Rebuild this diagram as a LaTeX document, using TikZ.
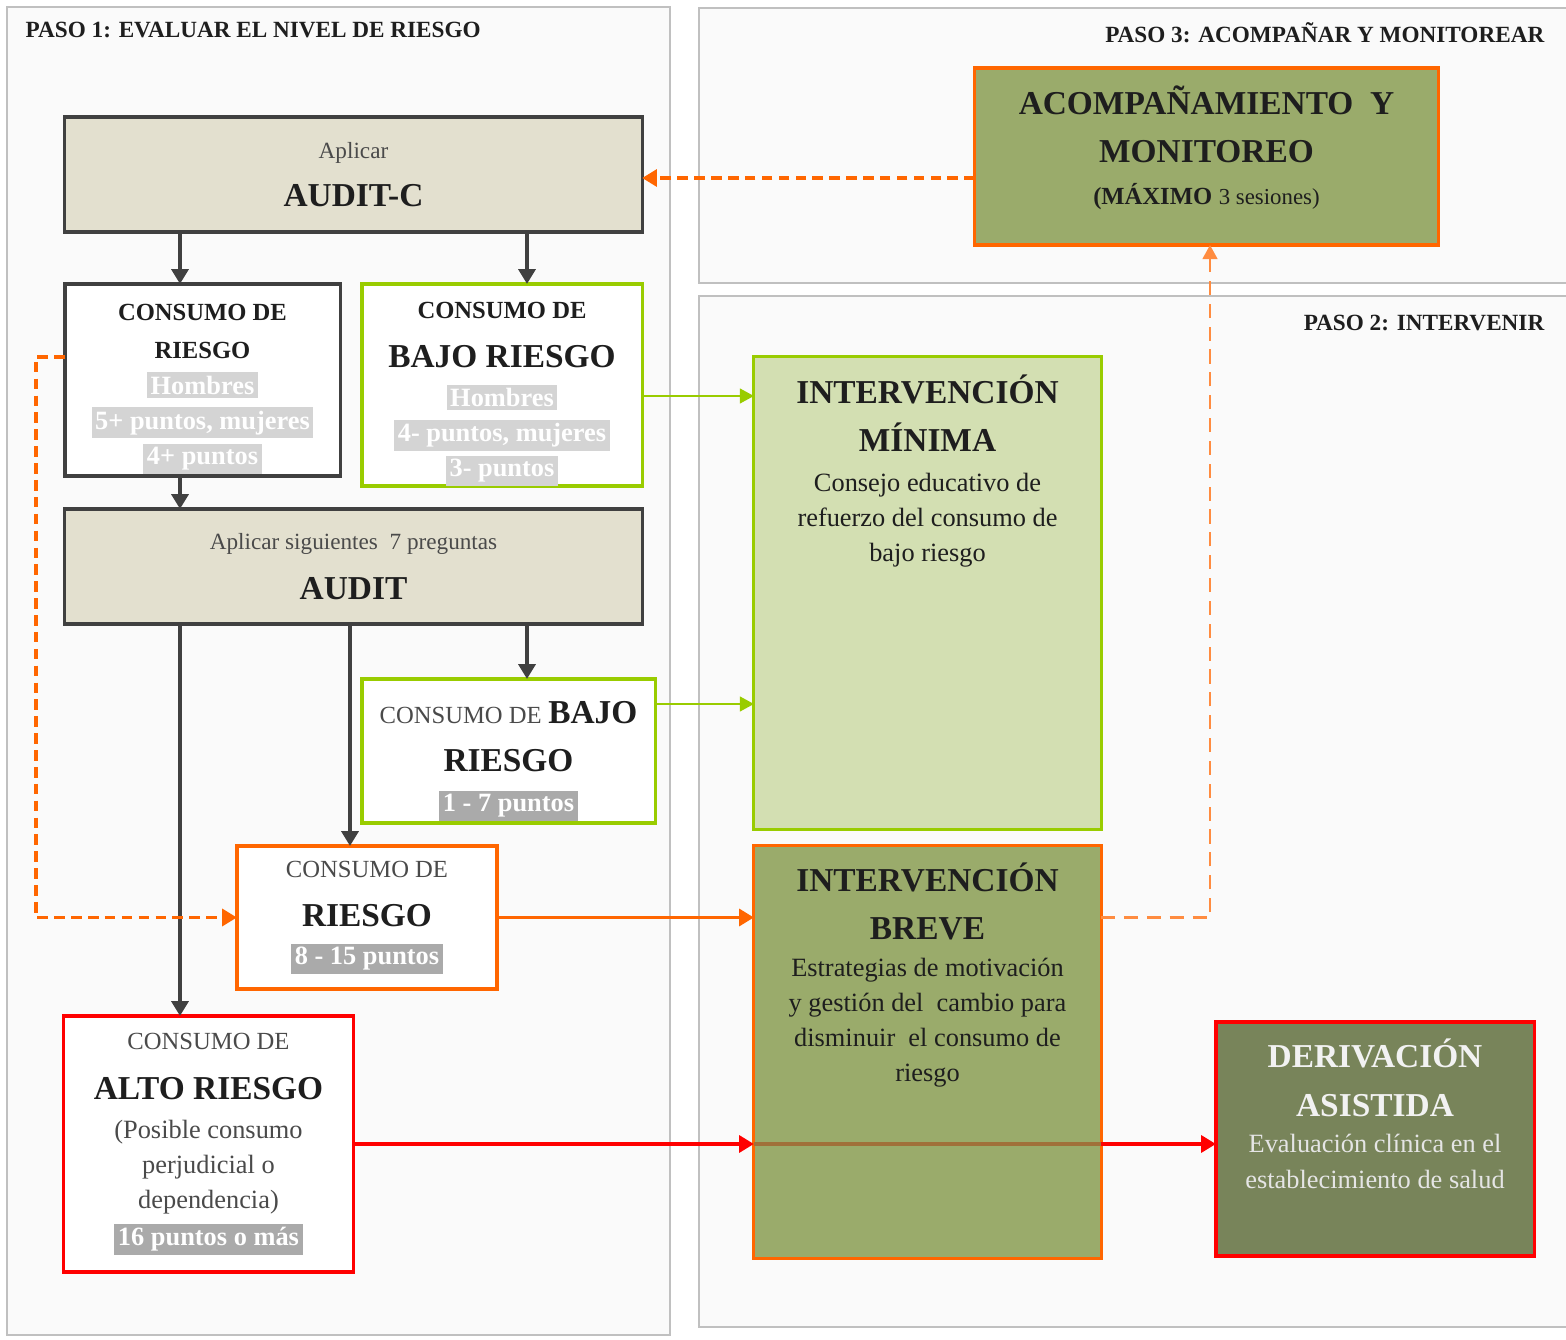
\documentclass[tikz,border=0pt]{standalone}
\usepackage{fontspec}
\setmainfont{Liberation Serif}
\usetikzlibrary{positioning,arrows.meta}

\definecolor{borde}{HTML}{404040}
\definecolor{beige}{HTML}{E3E0CF}
\definecolor{verde}{HTML}{99CC00}
\definecolor{naranja}{HTML}{FF6600}
\definecolor{rojo}{HTML}{FF0000}
\definecolor{oliva}{HTML}{9AAB6B}
\definecolor{olivaclaro}{HTML}{D3DFB2}
\definecolor{olivaoscuro}{HTML}{78845A}
\definecolor{fondopanel}{HTML}{FAFAFA}
\definecolor{marco}{HTML}{C0C0C0}
\definecolor{resaltado}{HTML}{D4D4D4}
\definecolor{resaltadodos}{HTML}{AAAAAA}
\definecolor{texto}{HTML}{1E1E1E}
\definecolor{textosuave}{HTML}{4A4A4A}
\definecolor{cafe}{HTML}{A0703A}

\newcommand{\letratitulo}{\fontsize{9.5}{10}\selectfont\bfseries}
\newcommand{\letraversal}{\fontsize{7}{10}\selectfont\bfseries}
\newcommand{\letraversalfina}{\fontsize{7}{10}\selectfont\color{textosuave}}
\newcommand{\letrasuave}{\fontsize{6.6}{10}\selectfont\color{textosuave}}
\newcommand{\resalte}[2][resaltado]{{\setlength{\fboxsep}{1pt}\colorbox{#1}{\bfseries\textcolor{white}{#2}}}}

\tikzset{
  panel/.style={draw=marco,line width=0.8pt,fill=fondopanel},
  pasotitulo/.style={font=\fontsize{6.6}{8}\selectfont\bfseries,text=texto,inner sep=0pt},
  caja/.style={draw=borde,line width=0.9pt,inner sep=0pt,outer sep=0pt,align=center,text=texto},
  textocaja/.style={inner sep=0pt,align=center,text=texto},
  flecha/.style={draw=borde,line width=1pt,-{Triangle[width=4.8pt,length=4.2pt]}},
  verdeflecha/.style={draw=verde,line width=0.6pt,-{Triangle[width=4.2pt,length=4pt]}},
  naranjaflecha/.style={draw=naranja,line width=1pt,-{Triangle[width=4.8pt,length=4.2pt]}},
  rojoflecha/.style={draw=rojo,line width=1pt,-{Triangle[width=4.8pt,length=4.2pt]}},
  discont/.style={draw=naranja,line width=1pt,dash pattern=on 3pt off 1.8pt,-{Triangle[width=4.8pt,length=4.2pt]}},
  discontfino/.style={draw=naranja!75,line width=0.65pt,dash pattern=on 4pt off 2.5pt,-{Triangle[width=4.2pt,length=4pt]}},
}

\begin{document}
\begin{tikzpicture}[x=0.01cm,y=-0.01cm,font=\fontsize{7.5}{10}\selectfont]
\useasboundingbox (0,0) rectangle (1566,1340);
\fill[white] (0,0) rectangle (1566,1340);

% paneles
\draw[panel] (7,7) rectangle (670,1335);
\draw[panel] (699,8) rectangle (1580,283);
\draw[panel] (699,296) rectangle (1580,1327);
\node[pasotitulo,anchor=west] (paso1) at (25,30) {PASO 1: EVALUAR EL NIVEL DE RIESGO};
\node[pasotitulo,anchor=east] (paso3) at (1545,33) {PASO 3: ACOMPAÑAR Y MONITOREAR};
\node[pasotitulo,anchor=east] (paso2) at (1545,323) {PASO 2: INTERVENIR};

% paso 1
\node[caja,fill=beige,minimum width=5.77cm,minimum height=1.15cm] (auditc) at (353.5,174.5)
  {{\letrasuave Aplicar}\\[3.7pt]{\letratitulo AUDIT-C}};
\node[caja,fill=white,minimum width=2.75cm,minimum height=1.92cm] (riesgoA) at (202.5,380)
  {\rule{0pt}{9.8pt}{\letraversal CONSUMO DE}\\[0.8pt]{\letraversal RIESGO}\\ \resalte{Hombres}\\
   \resalte{5+ puntos, mujeres}\\ \resalte{4+ puntos}};
\node[caja,draw=verde,fill=white,minimum width=2.8cm,minimum height=2.02cm] (bajoA) at (502,385)
  {\rule{0pt}{9.8pt}{\letraversal CONSUMO DE}\\[4pt]{\letratitulo BAJO RIESGO}\\[1pt]\resalte{Hombres}\\
   \resalte{4- puntos, mujeres}\\ \resalte{3- puntos}};
\node[caja,fill=beige,minimum width=5.77cm,minimum height=1.15cm] (audit) at (353.5,566.5)
  {{\letrasuave Aplicar siguientes\enspace 7 preguntas}\\[4pt]{\letratitulo AUDIT}};
\node[caja,draw=verde,fill=white,minimum width=2.93cm,minimum height=1.44cm] (bajoB) at (508.5,751)
  {\rule{0pt}{12pt}{\letraversalfina CONSUMO DE} {\letratitulo BAJO}\\[3.7pt]{\letratitulo RIESGO}\\[1.4pt]
   \resalte[resaltadodos]{1 - 7 puntos}};
\node[caja,draw=naranja,fill=white,minimum width=2.6cm,minimum height=1.43cm] (riesgoB) at (367,917.5)
  {{\letraversalfina CONSUMO DE}\\[4pt]{\letratitulo RIESGO}\\[0.8pt]\resalte[resaltadodos]{8 - 15 puntos}};
\node[caja,draw=rojo,fill=white,minimum width=2.89cm,minimum height=2.56cm,text=textosuave] (alto) at (208.5,1144)
  {{\letraversalfina CONSUMO DE}\\[4.2pt]{\letratitulo\color{texto} ALTO RIESGO}\\[1pt](Posible consumo\\
   perjudicial o\\ dependencia)\\[0.5pt]\resalte[resaltadodos]{16 puntos o más}};

% paso 3
\node[caja,draw=naranja,fill=oliva,minimum width=4.63cm,minimum height=1.77cm] (acomp) at (1206.5,156.5)
  {{\letratitulo ACOMPAÑAMIENTO\enspace Y}\\[3.7pt]{\letratitulo MONITOREO}\\[1.7pt]
   {\fontsize{7}{10}\selectfont\bfseries (MÁXIMO} {\fontsize{6.5}{10}\selectfont 3 sesiones)}\rule[-6.5pt]{0pt}{0pt}};

% paso 2
\node[caja,draw=verde,fill=olivaclaro,minimum width=3.47cm,minimum height=4.72cm] (minima) at (927.5,593) {};
\node[textocaja,below=4.8pt of minima.north] (minima-txt)
  {{\letratitulo INTERVENCIÓN}\\[3.7pt]{\letratitulo MÍNIMA}\\[1.4pt]Consejo educativo de\\
   refuerzo del consumo de\\ bajo riesgo};
\node[caja,draw=naranja,fill=oliva,minimum width=3.47cm,minimum height=4.12cm] (breve) at (927.5,1052) {};
\node[textocaja,below=4.6pt of breve.north] (breve-txt)
  {{\letratitulo INTERVENCIÓN}\\[3.7pt]{\letratitulo BREVE}\\[0.4pt]Estrategias de motivación\\
   y gestión del\enspace cambio para\\ disminuir\enspace el consumo de\\ riesgo};
\node[caja,draw=rojo,fill=olivaoscuro,minimum width=3.18cm,minimum height=2.34cm] (deriv) at (1375,1139) {};
\node[textocaja,below=4.6pt of deriv.north,text=black!10] (deriv-txt)
  {{\letratitulo\color{white!95!black} DERIVACIÓN}\\[4pt]{\letratitulo\color{white!95!black} ASISTIDA}\\[0.3pt]
   Evaluación clínica en el\\ establecimiento de salud};

% conectores
\coordinate (colA) at (180,0);
\coordinate (colB) at (350,0);
\coordinate (colC) at (527,0);
\coordinate (filaA) at (0,396);
\coordinate (filaB) at (0,704);
\coordinate (filaC) at (0,357);
\coordinate (izq) at (36,0);
\coordinate (colD) at (1210,0);

\draw[flecha] (colA |- auditc.south) -- (colA |- riesgoA.north);
\draw[flecha] (colC |- auditc.south) -- (colC |- bajoA.north);
\draw[flecha] (colA |- riesgoA.south) -- (colA |- audit.north);
\draw[flecha] (colC |- audit.south) -- (colC |- bajoB.north);
\draw[flecha] (colB |- audit.south) -- (colB |- riesgoB.north);
\draw[flecha] (colA |- audit.south) -- (colA |- alto.north);

\draw[verdeflecha] (bajoA.east |- filaA) -- (minima.west |- filaA);
\draw[verdeflecha] (bajoB.east |- filaB) -- (minima.west |- filaB);
\draw[naranjaflecha] (riesgoB.east) -- (riesgoB.east -| breve.west);
\draw[rojoflecha] (alto.east) -- (alto.east -| breve.west);
\draw[cafe,line width=1pt] (alto.east -| breve.west) -- (alto.east -| breve.east);
\draw[rojoflecha] (alto.east -| breve.east) -- (alto.east -| deriv.west);

\draw[discont] (riesgoA.west |- filaC) -| (izq |- riesgoB.west) -- (riesgoB.west);
\draw[discontfino] (riesgoB.east -| breve.east) -| (colD |- acomp.south);
\draw[discont] ([yshift=-1pt]acomp.west |- auditc.east) -- ([yshift=-1pt]auditc.east);
\end{tikzpicture}
\end{document}
